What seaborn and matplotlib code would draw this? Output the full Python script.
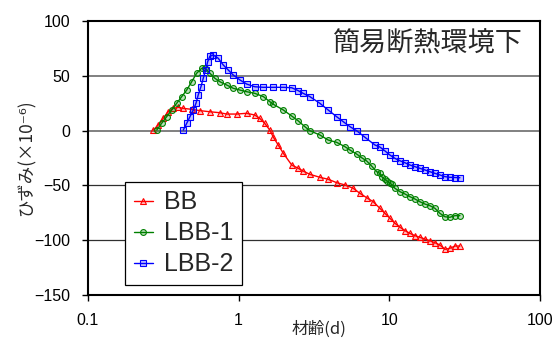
import matplotlib
matplotlib.use("Agg")
import matplotlib.pyplot as plt
import matplotlib.ticker as mticker
import seaborn as sns
import pandas as pd

# ---- data ----
bb_x = [0.271, 0.293, 0.316, 0.341, 0.368, 0.397, 0.429, 0.488, 0.554, 0.645,
        0.751, 0.833, 0.970, 1.13, 1.28, 1.38, 1.49, 1.61, 1.70, 1.83,
        1.98, 2.25, 2.49, 2.68, 2.97, 3.46, 3.93, 4.47, 5.08, 5.76,
        6.38, 7.07, 7.82, 8.66, 9.35, 10.1, 10.9, 11.8, 12.7, 13.7,
        14.8, 16.0, 17.2, 18.6, 20.1, 21.7, 23.4, 25.2, 27.3, 29.4]
bb_y = [0.4, 5.1, 11.2, 17.2, 20.3, 21.3, 20.3, 19.4, 18.2, 17.2,
        16.3, 15.1, 15.1, 15.8, 14.2, 11.2, 6.6, 0.5, -6.0, -13.1,
        -20.7, -31.4, -34.4, -36.9, -39.9, -42.6, -44.4, -47.5, -49.6, -52.6,
        -57.2, -61.2, -64.9, -70.9, -75.5, -80.0, -84.6, -88.2, -91.3, -93.7,
        -95.9, -97.4, -98.9, -100.5, -102.3, -104.4, -108.3, -107.4, -105.3, -105.3]

lbb1_x = [0.286, 0.308, 0.333, 0.359, 0.388, 0.419, 0.452, 0.488, 0.526, 0.568,
          0.598, 0.645, 0.696, 0.751, 0.833, 0.921, 1.02, 1.13, 1.28, 1.46,
          1.61, 1.70, 1.98, 2.25, 2.49, 2.75, 2.97, 3.46, 3.93, 4.47,
          5.08, 5.48, 6.07, 6.55, 7.07, 7.63, 8.24, 8.66, 8.89, 9.35,
          9.60, 10.09, 10.36, 10.89, 11.76, 12.69, 13.70, 14.79, 15.96, 17.23,
          18.6, 20.08, 21.67, 23.38, 25.24, 27.25, 29.41]
lbb1_y = [0.5, 6.6, 12.7, 18.8, 24.9, 31.0, 37.0, 44.6, 52.3, 56.8,
          56.8, 52.3, 47.7, 44.6, 41.6, 38.6, 37.0, 35.5, 34.0, 31.0,
          26.4, 24.0, 18.8, 13.3, 8.8, 3.6, -0.1, -4.0, -8.6, -10.7,
          -14.7, -17.7, -21.4, -24.7, -27.7, -32.3, -37.5, -39.0, -42.0, -44.5,
          -45.7, -48.1, -49.0, -52.6, -55.7, -57.8, -60.3, -62.4, -64.9, -67.0,
          -68.5, -70.9, -75.5, -78.6, -79.1, -77.6, -77.6]

lbb2_x = [0.429, 0.452, 0.475, 0.500, 0.521, 0.539, 0.562, 0.582, 0.604, 0.623,
          0.645, 0.678, 0.732, 0.790, 0.853, 0.921, 1.02, 1.13, 1.28, 1.46,
          1.70, 1.98, 2.25, 2.49, 2.68, 2.97, 3.46, 3.93, 4.47, 4.95,
          5.48, 6.07, 6.89, 8.02, 8.66, 9.35, 10.09, 10.89, 11.76, 12.69,
          13.70, 14.79, 15.96, 17.23, 18.6, 20.08, 21.67, 23.38, 25.24, 27.25,
          29.41]
lbb2_y = [0.5, 6.6, 12.7, 18.8, 24.9, 32.5, 40.0, 47.7, 55.3, 62.9,
          68.0, 69.0, 66.0, 59.9, 55.3, 50.7, 46.2, 42.5, 40.0, 39.5,
          39.5, 39.5, 39.1, 36.4, 34.0, 31.0, 24.9, 18.8, 12.7, 8.1,
          3.6, -0.1, -6.1, -13.1, -15.0, -18.5, -22.3, -25.3, -27.5, -29.3,
          -31.4, -32.9, -34.4, -35.9, -37.5, -39.0, -40.5, -42.0, -42.6, -42.8,
          -43.0]

series_names = ["BB", "LBB-1", "LBB-2"]
series_colors = ["#FF0000", "#008000", "#0000FF"]
series_markers = ["^", "o", "s"]

x_ticks = [0.1, 1, 10, 100]
x_ticklabels = ["0.1", "1", "10", "100"]
y_ticks = [-150, -100, -50, 0, 50, 100]

title_text = "簡易断熱環境下"
x_label = "材齢(d)"
y_label = "ひずみ(×10⁻⁶)"

# ---- plotting ----
sns.set_style("ticks")
plt.rcParams["font.family"] = ["Liberation Sans", "DejaVu Sans"]
cjk = ["Noto Sans CJK JP", "DejaVu Sans"]

fig = plt.figure(figsize=(5.54, 3.41), dpi=100)
ax = fig.add_axes([0.1588, 0.1349, 0.8159, 0.8035])

data = [(bb_x, bb_y), (lbb1_x, lbb1_y), (lbb2_x, lbb2_y)]
for (xs, ys), name, col, mk in zip(data, series_names, series_colors, series_markers):
    df = pd.DataFrame({"x": xs, "y": ys})
    rgb = matplotlib.colors.to_rgb(col)
    sns.lineplot(data=df, x="x", y="y", ax=ax, color=col, marker=mk,
                 markersize=4.2, mec=col, mew=0.8, mfc=(*rgb, 0.25),
                 linewidth=1.0, sort=False, estimator=None, label=name)

ax.set_xscale("log")
ax.set_xlim(0.1, 100)
ax.set_ylim(-150, 100)
ax.xaxis.set_major_locator(mticker.FixedLocator(x_ticks))
ax.xaxis.set_major_formatter(mticker.FixedFormatter(x_ticklabels))
ax.xaxis.set_minor_locator(mticker.NullLocator())
ax.set_yticks(y_ticks)

ax.tick_params(axis="both", direction="out", length=4, width=1, labelsize=11.5,
               pad=9, colors="black")
for lab in ax.get_xticklabels() + ax.get_yticklabels():
    lab.set_family(["Liberation Sans", "DejaVu Sans"])

ax.grid(axis="y", which="major")
ax.grid(axis="x", visible=False)
for val, gl in zip(y_ticks, ax.get_ygridlines()):
    if val >= 0:
        gl.set_color("#808080"); gl.set_linewidth(1.4)
    else:
        gl.set_color("#303030"); gl.set_linewidth(0.9)

for sp in ax.spines.values():
    sp.set_visible(True)
    sp.set_color("black")
    sp.set_linewidth(1.5)

ax.set_xlabel(x_label, fontsize=12, family=cjk, va="center")
ax.xaxis.set_label_coords(0.511, -0.126)
ax.set_ylabel(y_label, fontsize=12.5, family=cjk, va="center")
ax.yaxis.set_label_coords(-0.135, 0.5)

ax.text(0.962, 0.916, title_text, transform=ax.transAxes, ha="right", va="center",
        fontsize=19.5, family=cjk)

leg = ax.legend(loc="lower left", bbox_to_anchor=(0.082, 0.036), borderaxespad=0,
                fontsize=18, frameon=True, fancybox=False, framealpha=1,
                edgecolor="black", handlelength=0.75, handletextpad=0.45,
                labelspacing=0.28, borderpad=0.35, numpoints=1)
leg.get_frame().set_linewidth(0.9)

fig.savefig("out.png", dpi=100)
